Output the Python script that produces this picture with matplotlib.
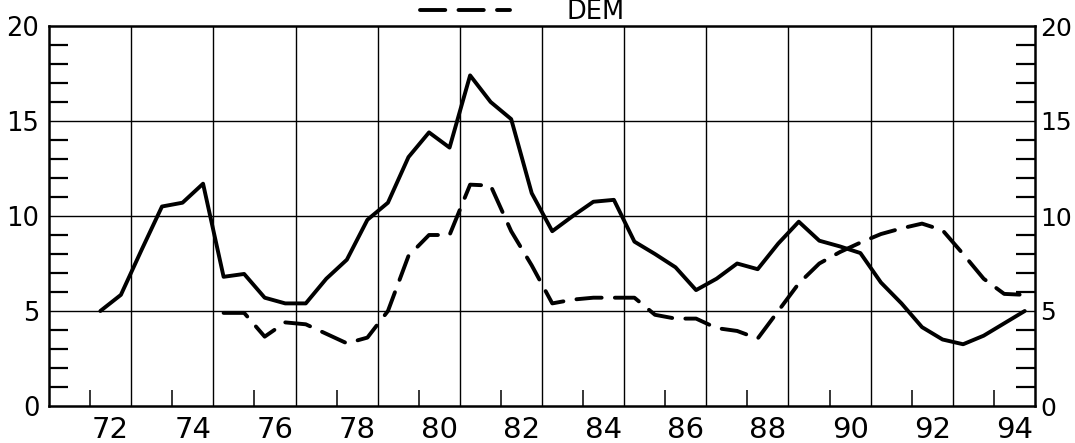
import matplotlib
matplotlib.use("Agg")
import matplotlib.pyplot as plt
import matplotlib.transforms as mtransforms

# Half-yearly observations, 1972 H1 through 1994 H2
years = list(range(1972, 1995))
halves = (0.25, 0.75)

# Solid series (all half-years)
total = [5.0, 5.85, 8.2, 10.5, 10.7, 11.7, 6.8, 6.95, 5.7, 5.4,
         5.4, 6.7, 7.7, 9.8, 10.7, 13.1, 14.4, 13.6, 17.4, 16.0,
         15.1, 11.2, 9.2, 10.0, 10.75, 10.85, 8.65, 8.0, 7.3, 6.1,
         6.7, 7.5, 7.2, 8.55, 9.7, 8.7, 8.4, 8.05, 6.5, 5.4,
         4.15, 3.5, 3.25, 3.7, 4.35, 5.0]

# Dashed series (DEM), starts in 1975 H1
dem_start_year = 1975
dem = [4.9, 4.9, 3.65, 4.4, 4.3, 3.8, 3.3, 3.6, 5.0, 7.9,
       9.0, 9.0, 11.65, 11.6, 9.2, 7.4, 5.4, 5.6, 5.7, 5.7,
       5.7, 4.8, 4.6, 4.6, 4.1, 3.95, 3.55, 5.0, 6.45, 7.5,
       8.1, 8.6, 9.05, 9.35, 9.6, 9.25, 8.0, 6.7, 5.9, 5.85]

year_labels = ["72", "74", "76", "78", "80", "82", "84", "86", "88", "90", "92", "94"]
y_labels = ["0", "5", "10", "15", "20"]

# positions: a year occupies [yy, yy+1]; halves sit at quarter points
t_all = [y - 1900 + h for y in years for h in halves]
t_dem = [y - 1900 + h for y in years if y >= dem_start_year for h in halves]

plt.rcParams["font.family"] = ["DejaVu Sans"]

W, H = 1075, 443
fig = plt.figure(figsize=(W / 100, H / 100), dpi=100)
ax = fig.add_axes([49 / W, 1 - 406 / H, (1035 - 49) / W, (406 - 26) / H])

ax.set_xlim(71, 95)
ax.set_ylim(0, 20)

# grid: vertical lines at year boundaries between label pairs, horizontal every 5
for xv in range(73, 95, 2):
    ax.axvline(xv, color="black", lw=1.0, zorder=1)
for yv in (5, 10, 15):
    ax.axhline(yv, color="black", lw=1.0, zorder=1)

ax.plot(t_all, total, color="black", lw=2.8, solid_joinstyle="round",
        solid_capstyle="round", zorder=3)
dem_line, = ax.plot(t_dem, dem, color="black", lw=2.8, linestyle=(0, (6.5, 3.4)),
                    dash_capstyle="round", zorder=3)

# x axis: labels centred in each labelled year, short ticks at year starts
label_pos = [int(s) + 0.5 for s in year_labels]
ax.set_xticks(label_pos)
ax.set_xticklabels(year_labels, fontsize=21)
ax.set_xticks(list(range(72, 95, 2)), minor=True)
ax.tick_params(axis="x", which="major", length=0, pad=7)
ax.tick_params(axis="x", which="minor", direction="in", length=11.5, width=1.1,
               bottom=True, top=False)

# y axis: labels on both sides, unit ticks pointing inward
ax.set_yticks([int(s) for s in y_labels])
ax.set_yticklabels(y_labels, fontsize=18.5)
ax.set_yticks([v for v in range(1, 20) if v % 5], minor=True)
ax.tick_params(axis="y", which="major", length=0, left=True, right=True,
               labelleft=True, labelright=True, pad=7)
ax.tick_params(axis="y", which="minor", direction="in", length=13.5, width=1.6,
               left=True, right=True)
for tk in ax.yaxis.get_major_ticks():
    tk.label2.set_fontsize(18)

for sp in ax.spines.values():
    sp.set_linewidth(1.8)

fig.legend(handles=[dem_line], labels=["DEM"], loc="center left",
           bbox_to_anchor=(420 / W, 1 - 12 / H), frameon=False, fontsize=18.5,
           handlelength=3.5, handletextpad=2.2, borderpad=0, borderaxespad=0)

fig.canvas.draw()
# right-hand labels sit a little closer to the frame
shift = mtransforms.ScaledTranslation(-3 / 72, 0, fig.dpi_scale_trans)
for tk in ax.yaxis.get_major_ticks():
    tk.label2.set_transform(tk.label2.get_transform() + shift)

fig.savefig("out.png", dpi=100, facecolor="white")
